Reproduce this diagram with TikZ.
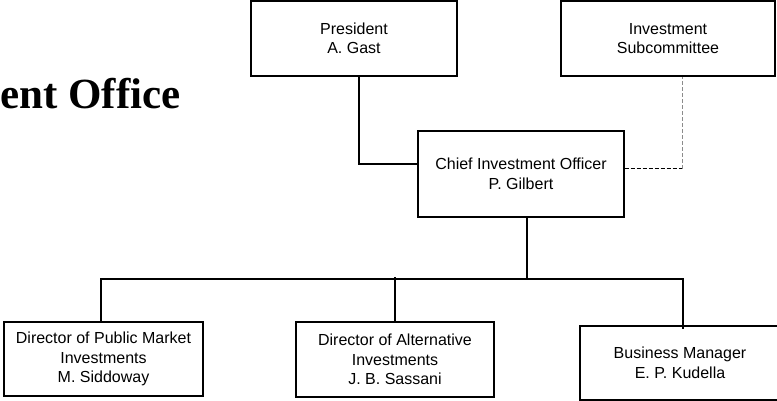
\documentclass[tikz,border=0pt]{standalone}
\usepackage{fontspec}
\setmainfont{Liberation Sans}
\newfontfamily\ttlfont{Liberation Serif}
\usetikzlibrary{positioning,calc}
\tikzset{
  obox/.style={draw,line width=1.4pt,align=center,inner sep=2pt,
    font=\fontsize{16}{19.5}\selectfont},
  link/.style={line width=1.4pt},
  advlink/.style={line width=1pt,dash pattern=on 4pt off 2pt}, % advisory line
  ttl/.style={font=\ttlfont\bfseries\fontsize{43}{43}\selectfont,inner sep=0pt,anchor=base west},
}

\begin{document}
\begin{tikzpicture}[x=1pt,y=-1pt]
  \useasboundingbox (0,0) rectangle (777,401);
  \clip (0,0) rectangle (777,401);
  \node[ttl] (title) at (0,109) {ent Office};
  % top row
  \node[obox,minimum width=206pt,minimum height=75pt] (pres) at (354,38.5) {President\\A. Gast};
  \node[obox,minimum width=214pt,minimum height=75pt] (subc) at (668,38.5) {Investment\\Subcommittee};
  \node[obox,minimum width=206pt,minimum height=86pt] (cio) at (521,174) {Chief Investment Officer\\P. Gilbert};
  % bottom row
  \node[obox,minimum width=199pt,minimum height=74pt] (dpm) at (103.5,359) {Director of Public Market\\Investments\\M. Siddoway};
  \node[obox,minimum width=198pt,minimum height=75pt] (dai) at (395,359.5) {Director of Alternative\\Investments\\J. B. Sassani};
  \node[obox,minimum width=200pt,minimum height=74pt] (bm) at (680,363) {Business Manager\\E. P. Kudella};
  \coordinate (busl) at (101,279);
  \coordinate (busr) at (683,279);
  \coordinate (advc) at ([xshift=14pt,yshift=5pt]subc.south |- cio.east);
  % connectors
  \draw[link] ([xshift=5pt]pres.south) |- ([yshift=10pt]cio.west);
  \draw[advlink] ([yshift=5pt]cio.east) -- (advc);
  \draw[advlink,black!45] (advc) -- ([xshift=14pt]subc.south);
  \draw[link] ([xshift=6pt]cio.south) -- ([xshift=6pt]cio.south |- busl);
  \draw[link] (dpm.north -| busl) -- (busl) -- (busr) -- ([yshift=-4pt]bm.north -| busr);
  \draw[link] ([yshift=2pt]dai.north |- busl) -- (dai.north);
\end{tikzpicture}
\end{document}
